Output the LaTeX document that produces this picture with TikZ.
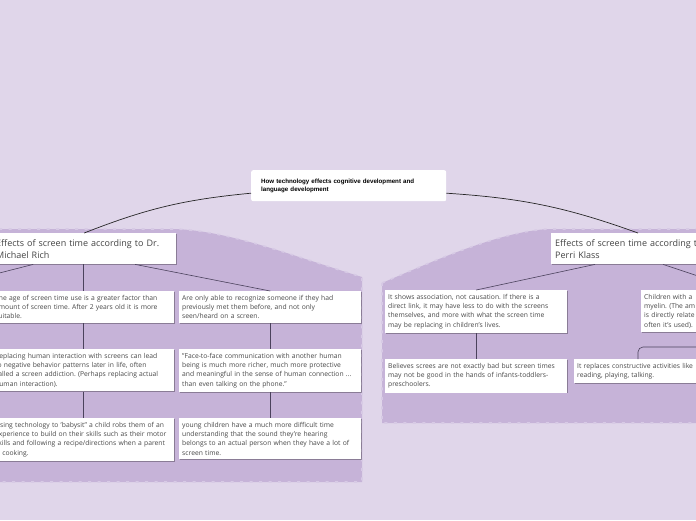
\documentclass[tikz,border=0pt]{standalone}
\usepackage{fontspec}
\setmainfont{Open Sans}
\newfontfamily\topicfont{Liberation Sans}
\usetikzlibrary{shadows,positioning}
\frenchspacing

\definecolor{bgcol}{RGB}{224,214,234}
\definecolor{regionfill}{RGB}{198,179,216}
\definecolor{regionedge}{RGB}{215,202,229}
\definecolor{cardtext}{RGB}{72,72,72}
\definecolor{headtext}{RGB}{68,68,68}
\definecolor{linkcol}{RGB}{75,66,92}

\begin{document}
\begin{tikzpicture}[
  x=1pt, y=-1pt,
  font=\fontsize{6.75}{9.3}\selectfont,
  region/.style={fill=regionfill, draw=regionedge, line width=1.6pt, dash pattern=on 3pt off 6.5pt},
  card/.style={fill=white, text=cardtext, align=left, anchor=north west, inner xsep=3pt,
               inner ysep=4pt, text width=176pt,
               drop shadow={shadow xshift=0.7pt, shadow yshift=-0.8pt, fill=black, opacity=0.3}},
  head/.style={card, font=\fontsize{9}{12}\selectfont, text=headtext, text width=176pt,
               inner xsep=4pt, minimum height=31pt},
  topicbox/.style={fill=white, rounded corners=2pt, anchor=north west, align=left, text width=175pt,
               inner xsep=10pt, minimum height=31pt, font=\topicfont\bfseries\fontsize{6.2}{8}\selectfont},
  link/.style={draw=linkcol, line width=0.6pt},
  mainlink/.style={draw=black!85, line width=0.7pt}
]
\useasboundingbox (0,0) rectangle (696,520);
\fill[bgcol] (0,0) rectangle (696,520);

% ---- regions
\path[region] (-20,229) -- (175,229) .. controls (230,231) and (290,255) .. (362,277)
  -- (362,482) -- (-20,482) -- cycle;
\path[region] (382,283) .. controls (440,258) and (500,232) .. (548,229)
  -- (720,229) -- (720,423) -- (382,423) -- cycle;

% ---- central topic
\node[topicbox] (topic) at (251,170) {How technology effects cognitive development and\\language development};

% ---- headers
\node[head] (rich) at (-8,233) {Effects of screen time according to Dr.\\Michael Rich};
\node[head] (klass) at (551,233) {Effects of screen time according to Dr.\\Perri Klass};

\draw[mainlink] ([yshift=-7.5pt]topic.west) to[bend right=8] (rich.north);
\draw[mainlink] ([yshift=-7.5pt]topic.east) to[bend left=8] ([xshift=87pt]klass.north west);

% ---- Michael Rich
\node[card] (age) at (-8,291) {The age of screen time use is a greater factor than\\amount of screen time. After 2 years old it is more\\suitable.};
\node[card] (recog) at (179,291) {Are only able to recognize someone if they had\\previously met them before, and not only\\seen/heard on a screen.};
\node[card] (replace) at (-8,349) {Replacing human interaction with screens can lead\\to negative behavior patterns later in life, often\\called a screen addiction. (Perhaps replacing actual\\human interaction).};
\node[card] (face) at (179,349) {"Face-to-face communication with another human\\being is much more richer, much more protective\\and meaningful in the sense of human connection ...\\than even talking on the phone."};
\node[card] (babysit) at (-8,418) {Using technology to 'babysit" a child robs them of an\\experience to build on their skills such as their motor\\skills and following a recipe/directions when a parent\\is cooking.};
\node[card] (sound) at (179,418) {young children have a much more difficult time\\understanding that the sound they're hearing\\belongs to an actual person when they have a lot of\\screen time.};

\coordinate (richoff) at (-40,283);
\draw[link] ([xshift=-51pt]rich.south) -- (richoff);
\draw[link] (rich.south -| age.north) -- (age.north);
\draw[link] ([xshift=51pt]rich.south) -- (recog.north);
\draw[link] (age) -- (replace);
\draw[link] (replace) -- (babysit);
\draw[link] (recog) -- (face);
\draw[link] (face) -- (sound);

% ---- Perri Klass
\node[card] (assoc) at (385,290) {It shows association, not causation. If there is a\\direct link, it may have less to do with the screens\\themselves, and more with what the screen time\\may be replacing in children's lives.};
\node[card] (myelin) at (641,290) {Children with a\\myelin. (The am\\is directly relate\\often it's used).};
\node[card] (believes) at (385,359) {Believes screes are not exactly bad but screen times\\may not be good in the hands of infants-toddlers-\\preschoolers.};
\node[card] (constr) at (574,359) {It replaces constructive activities like\\reading, playing, talking.};

\coordinate (klassoff) at (740,290);
\coordinate (constroff) at (720,347);
\draw[link] ([xshift=44pt]klass.south west) -- (assoc.north);
\draw[link] ([xshift=112pt]klass.south west) -- (klassoff);
\draw[link] (assoc) -- (believes);
\draw[link, rounded corners=5pt] ([xshift=64pt]constr.north west) |- (constroff);
\end{tikzpicture}
\end{document}
